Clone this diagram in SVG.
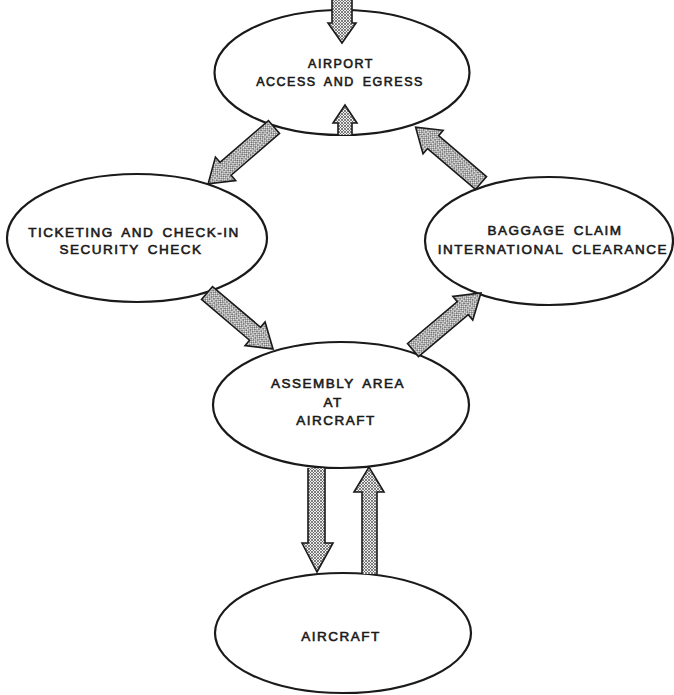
<svg xmlns="http://www.w3.org/2000/svg" width="674" height="695" viewBox="0 0 674 695">
<defs>
<pattern id="hatch" patternUnits="userSpaceOnUse" width="3" height="3">
<rect width="3" height="3" fill="#eeeeee"/>
<path d="M0,0 L3,3 M3,0 L0,3" stroke="#5a5a5a" stroke-width="0.75"/>
</pattern>
<style>
.node ellipse{fill:#fff;stroke:#1a1a1a;stroke-width:2.2}
.node text{font-family:"Liberation Sans",Arial,sans-serif;font-size:13.5px;letter-spacing:1.5px;word-spacing:3px;fill:#1a1a1a;stroke:#1a1a1a;stroke-width:0.6;text-anchor:middle}
.arrow{fill:url(#hatch);stroke:#1a1a1a;stroke-width:1.6;stroke-linejoin:miter}
</style>
</defs>
<rect width="674" height="695" fill="#fff"/>
<g id="node-airport" class="node">
<ellipse cx="342" cy="72.5" rx="127.5" ry="62.5"/>
<text x="341" y="68" style="font-size:12.5px">AIRPORT</text>
<text x="340" y="86" style="font-size:12.5px">ACCESS AND EGRESS</text>
</g>
<g id="node-ticketing" class="node">
<ellipse cx="137" cy="238" rx="130" ry="64"/>
<text x="134" y="237">TICKETING AND CHECK-IN</text>
<text x="131" y="254">SECURITY CHECK</text>
</g>
<g id="node-baggage" class="node">
<ellipse cx="549" cy="241" rx="124" ry="64"/>
<text x="555" y="235">BAGGAGE CLAIM</text>
<text x="553" y="254">INTERNATIONAL CLEARANCE</text>
</g>
<g id="node-assembly" class="node">
<ellipse cx="341" cy="405" rx="128" ry="63"/>
<text x="338" y="388">ASSEMBLY AREA</text>
<text x="333" y="407">AT</text>
<text x="336" y="425">AIRCRAFT</text>
</g>
<g id="node-aircraft" class="node">
<ellipse cx="343" cy="633" rx="128" ry="60"/>
<text x="341" y="641">AIRCRAFT</text>
</g>
<g id="connectors">
<!-- into airport from top -->
<path class="arrow" d="M332,-4 L332,23 L328,23 L342,43 L356,23 L352,23 L352,-4 Z"/>
<!-- up inside airport -->
<path class="arrow" d="M338,135 L338,123 L333,123 L345,105 L357,123 L352,123 L352,135"/>
<!-- airport -> ticketing -->
<path class="arrow" transform="translate(274,127) rotate(139.2)" d="M0,-8.5 L64,-8.5 L64,-15.5 L87,0 L64,15.5 L64,8.5 L0,8.5 Z"/>
<!-- baggage -> airport -->
<path class="arrow" transform="translate(481,183) rotate(-139.5)" d="M0,-8.5 L63,-8.5 L63,-15.5 L86,0 L63,15.5 L63,8.5 L0,8.5 Z"/>
<!-- ticketing -> assembly -->
<path class="arrow" transform="translate(207,293) rotate(40.3)" d="M0,-8.5 L63,-8.5 L63,-15.5 L86.6,0 L63,15.5 L63,8.5 L0,8.5 Z"/>
<!-- assembly -> baggage -->
<path class="arrow" transform="translate(413,350) rotate(-40)" d="M0,-8.5 L65,-8.5 L65,-15.5 L88.7,0 L65,15.5 L65,8.5 L0,8.5 Z"/>
<!-- assembly -> aircraft -->
<path class="arrow" d="M308,468 L308,543 L302,543 L317,572 L333,543 L325,543 L325,468"/>
<!-- aircraft -> assembly -->
<path class="arrow" d="M362,574 L362,492 L354,492 L369,467 L384,492 L377,492 L377,574"/>
</g>
</svg>
